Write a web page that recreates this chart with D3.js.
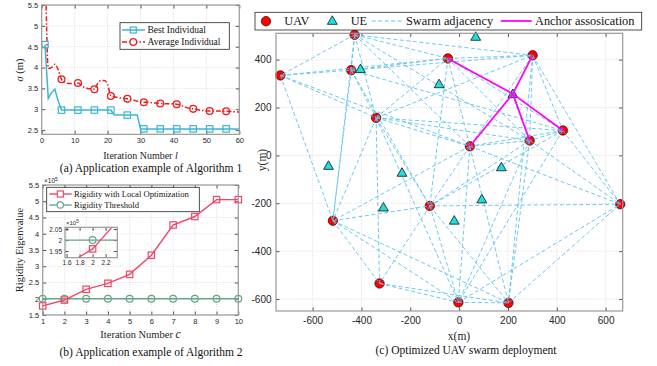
<!DOCTYPE html>
<html>
<head>
<meta charset="utf-8">
<script src="https://cdn.jsdelivr.net/npm/d3@7"></script>
<style>
  body { margin: 0; background: #fff; }
  svg { display: block; }
</style>
</head>
<body>
<svg id="fig" width="657" height="366"></svg>
<script>
// ---- (a) Algorithm 1: sigma per iteration (iterations 1..60)
const bestSigma = [4.55, 3.26, 3.40, 3.48, 3.20, 2.98,
  2.98, 2.98, 2.98, 2.98, 2.98, 2.98, 2.98, 2.98, 2.98, 2.98, 2.98, 2.98, 2.98, 2.98, 2.98,
  2.86, 2.86, 2.86, 2.86, 2.86, 2.86, 2.86, 2.86,
  2.53, 2.53, 2.53, 2.53, 2.53, 2.53, 2.53, 2.53, 2.53, 2.53, 2.53, 2.53, 2.53, 2.53, 2.53, 2.53,
  2.53, 2.53, 2.53, 2.53, 2.53, 2.53, 2.53, 2.53, 2.53, 2.53, 2.53, 2.53, 2.53, 2.53, 2.53];
const avgSigma = [7.0, 3.98, 4.00, 4.08, 3.95, 3.72, 3.65, 3.62, 3.62, 3.62,
  3.63, 3.58, 3.52, 3.50, 3.49, 3.48, 3.62, 3.69, 3.69, 3.60,
  3.32, 3.30, 3.28, 3.27, 3.26, 3.25, 3.24, 3.22, 3.19, 3.18,
  3.17, 3.17, 3.16, 3.15, 3.15, 3.14, 3.13, 3.13, 3.13, 3.13,
  3.12, 3.10, 3.07, 3.04, 3.02, 3.01, 3.00, 2.98, 2.97, 2.96,
  2.96, 2.96, 2.96, 2.96, 2.95, 2.95, 2.95, 2.94, 2.94, 2.93];
const ticksAx = [0, 10, 20, 30, 40, 50, 60];
const ticksAy = [2.5, 3, 3.5, 4, 4.5, 5, 5.5];

// ---- (b) Algorithm 2: rigidity eigenvalue (x1e5) per iteration c
const iterC = [1, 2, 3, 4, 5, 6, 7, 8, 9, 10];
const rigidity = [1.78, 1.96, 2.29, 2.475, 2.75, 3.34, 4.27, 4.53, 5.05, 5.05];
const threshold = [2, 2, 2, 2, 2, 2, 2, 2, 2, 2];
const ticksBy = [1.5, 2, 2.5, 3, 3.5, 4, 4.5, 5, 5.5];
const insetTicksX = [1.6, 1.8, 2, 2.2];
const insetTicksY = [1.95, 2, 2.05];

// ---- (c) UAV swarm deployment (m)
const uavX = [-428, -732, -442, -340, -46, 301, 425, 289, 44, -517, -120, -326, -3, 202, 660];
const uavY = [504, 334, 356, 157, 405, 418, 104, 62, 38, -273, -211, -535, -614, -616, -204];
const ueX = [-404, -82, -535, -234, 68, 220, 173, -310, -20, 93];
const ueY = [361, 298, -43, -72, 496, 257, -49, -217, -272, -183];
// swarm adjacency, by UAV index
const adjFrom = [0, 0, 0, 0, 0, 0, 0, 0, 1, 1, 1, 1, 1, 2, 2, 2, 2, 2, 2,
  3, 3, 3, 3, 3, 3, 3, 3, 3, 4, 4, 4, 4, 4, 5, 5, 5, 5, 5, 6, 6, 6, 6, 6,
  7, 7, 7, 7, 7, 8, 8, 8, 8, 8, 9, 9, 9, 9, 10, 10, 10, 10, 11, 11, 12, 12, 13];
const adjTo = [1, 2, 3, 4, 5, 8, 9, 7, 2, 4, 3, 9, 8, 4, 5, 3, 6, 10, 9,
  4, 5, 7, 6, 8, 10, 11, 9, 12, 5, 8, 7, 10, 6, 6, 7, 8, 14, 13, 7, 8, 14, 10, 12,
  8, 14, 13, 12, 10, 10, 12, 13, 14, 9, 10, 11, 12, 13, 11, 12, 13, 14, 12, 13, 13, 14, 14];
const anchorUE = 5;
const anchorUAVs = [4, 5, 6, 7, 8];
const ticksCx = [-600, -400, -200, 0, 200, 400, 600];
const ticksCy = [-600, -400, -200, 0, 200, 400];

const svg = d3.select('#fig');
const SERIF = 'Liberation Serif, Times New Roman, serif';
const SANS = 'Liberation Sans, Arial, sans-serif';
const TXT = '#262626';

// MATLAB-like box: grid, inward ticks on all sides, tick labels left/bottom
function drawBox(g, x, y, xt, yt, fs, fmtX, fmtY, padX = 3, padY = 3) {
  const [xa, xb] = x.range();
  const [ya, yb] = y.range();
  const grid = g.append('g');
  grid.selectAll('.gx').data(xt).join('line')
    .attr('x1', d => x(d)).attr('x2', d => x(d)).attr('y1', ya).attr('y2', yb);
  grid.selectAll('.gy').data(yt).join('line')
    .attr('y1', d => y(d)).attr('y2', d => y(d)).attr('x1', xa).attr('x2', xb);
  grid.selectAll('line').attr('stroke', '#cfcfcf').attr('stroke-width', 0.7)
    .attr('stroke-dasharray', '1,1.5');

  const ax = [
    [d3.axisBottom(x).tickValues(xt).tickFormat(fmtX), `translate(0,${ya})`, padX],
    [d3.axisTop(x).tickValues(xt).tickFormat(''), `translate(0,${yb})`, 3],
    [d3.axisLeft(y).tickValues(yt).tickFormat(fmtY), `translate(${xa},0)`, padY],
    [d3.axisRight(y).tickValues(yt).tickFormat(''), `translate(${xb},0)`, 3]
  ];
  ax.forEach(([a, t, p]) => {
    const s = g.append('g').attr('transform', t)
      .call(a.tickSize(-3.5).tickSizeOuter(0).tickPadding(p))
      .attr('font-family', SANS).attr('font-size', fs);
    s.select('.domain').remove();
    s.selectAll('.tick line').attr('stroke', TXT).attr('stroke-width', 0.8);
    s.selectAll('.tick text').attr('fill', TXT);
  });
  return g;
}

function frameRect(g, x, y) {
  const [xa, xb] = x.range();
  const [ya, yb] = y.range();
  g.append('rect').attr('x', xa).attr('y', yb).attr('width', xb - xa).attr('height', ya - yb)
    .attr('fill', 'none').attr('stroke', '#9a9a9a').attr('stroke-width', 1.2);
}

// ================= (a) =================
{
  const g = svg.append('g');
  const x = d3.scaleLinear().domain([0, 60]).range([41.7, 239.3]);
  const y = d3.scaleLinear().domain([2.4, 5.5]).range([134.3, 5]);
  g.append('rect').attr('x', 41.7).attr('y', 5).attr('width', 197.6).attr('height', 129.3).attr('fill', '#fff');
  drawBox(g, x, y, ticksAx, ticksAy, 7.5, d3.format('d'), d => String(d), 3.5, 3.5);

  g.append('clipPath').attr('id', 'clipA').append('rect')
    .attr('x', 41.7).attr('y', 5).attr('width', 197.6).attr('height', 129.3);

  const cyan = '#3cb6d3', red = '#ee1c1c';
  const line = d3.line().x((d, i) => x(i + 1)).y(d => y(d));
  const gp = g.append('g').attr('clip-path', 'url(#clipA)');
  gp.append('path').datum(bestSigma).attr('d', line)
    .attr('fill', 'none').attr('stroke', cyan).attr('stroke-width', 1.5);
  gp.append('path').datum(avgSigma).attr('d', line.curve(d3.curveMonotoneX))
    .attr('fill', 'none').attr('stroke', red).attr('stroke-width', 1.5)
    .attr('stroke-dasharray', '5,2,1.5,2');

  const marks = d3.range(0, 60, 5);
  gp.selectAll('.bm').data(marks).join('rect')
    .attr('x', i => x(i + 1) - 3.2).attr('y', i => y(bestSigma[i]) - 3.2)
    .attr('width', 6.4).attr('height', 6.4)
    .attr('fill', 'none').attr('stroke', cyan).attr('stroke-width', 1.2);
  gp.selectAll('.am').data(marks).join('circle')
    .attr('cx', i => x(i + 1)).attr('cy', i => y(avgSigma[i])).attr('r', 3.4)
    .attr('fill', 'none').attr('stroke', red).attr('stroke-width', 1.3);
  frameRect(g, x, y);

  // legend
  const lg = g.append('g');
  lg.append('rect').attr('x', 120).attr('y', 22.7).attr('width', 109.3).attr('height', 26.6)
    .attr('fill', '#fff').attr('stroke', '#262626').attr('stroke-width', 0.8);
  lg.append('line').attr('x1', 122).attr('x2', 145).attr('y1', 30).attr('y2', 30)
    .attr('stroke', cyan).attr('stroke-width', 1.5);
  lg.append('rect').attr('x', 130.3).attr('y', 27).attr('width', 6).attr('height', 6)
    .attr('fill', 'none').attr('stroke', cyan).attr('stroke-width', 1.2);
  lg.append('line').attr('x1', 122).attr('x2', 145).attr('y1', 42).attr('y2', 42)
    .attr('stroke', red).attr('stroke-width', 1.5).attr('stroke-dasharray', '5,2,1.5,2');
  lg.append('circle').attr('cx', 133.3).attr('cy', 42).attr('r', 3.3)
    .attr('fill', '#fff').attr('stroke', red).attr('stroke-width', 1.3);
  lg.append('text').attr('x', 147.5).attr('y', 33.2).text('Best Individual');
  lg.append('text').attr('x', 147.5).attr('y', 45.2).text('Average Individual');
  lg.selectAll('text').attr('font-family', SERIF).attr('font-size', 9.5).attr('fill', '#111');

  g.append('text').attr('transform', 'translate(23,70) rotate(-90)')
    .attr('text-anchor', 'middle').attr('font-family', SERIF).attr('font-size', 10.5).attr('fill', TXT)
    .call(t => {
      t.append('tspan').attr('font-style', 'italic').text('σ');
      t.append('tspan').text(' (m)');
    });
  g.append('text').attr('x', 140.5).attr('y', 159).attr('text-anchor', 'middle')
    .attr('font-family', SERIF).attr('font-size', 10).attr('fill', TXT)
    .call(t => {
      t.append('tspan').text('Iteration Number ');
      t.append('tspan').attr('font-style', 'italic').text('l');
    });
  g.append('text').attr('x', 151).attr('y', 172).attr('text-anchor', 'middle')
    .attr('font-family', SERIF).attr('font-size', 11.5).attr('fill', '#111')
    .text('(a) Application example of Algorithm 1');
}

// ================= (b) =================
{
  const g = svg.append('g');
  const x = d3.scaleLinear().domain([1, 10]).range([42.7, 238.3]);
  const y = d3.scaleLinear().domain([1.5, 5.5]).range([315, 185]);
  drawBox(g, x, y, iterC, ticksBy, 7.5, d3.format('d'), d => String(d), 3.5, 3.5);

  const pink = '#f2456a', green = '#66a688';
  const line = d3.line().x((d, i) => x(iterC[i])).y(d => y(d));
  g.append('path').datum(threshold).attr('d', line)
    .attr('fill', 'none').attr('stroke', green).attr('stroke-width', 1.4);
  g.selectAll('.tm').data(threshold).join('circle')
    .attr('cx', (d, i) => x(iterC[i])).attr('cy', d => y(d)).attr('r', 3.4)
    .attr('fill', 'none').attr('stroke', green).attr('stroke-width', 1.2);
  g.append('path').datum(rigidity).attr('d', line)
    .attr('fill', 'none').attr('stroke', pink).attr('stroke-width', 1.4);
  g.selectAll('.rm').data(rigidity).join('rect')
    .attr('x', (d, i) => x(iterC[i]) - 3.2).attr('y', d => y(d) - 3.2)
    .attr('width', 6.4).attr('height', 6.4)
    .attr('fill', 'none').attr('stroke', pink).attr('stroke-width', 1.2);
  frameRect(g, x, y);

  g.append('text').attr('x', 44).attr('y', 183).attr('font-family', SANS).attr('font-size', 6.5).attr('fill', TXT)
    .call(t => {
      t.append('tspan').text('×10');
      t.append('tspan').attr('dy', -2.5).attr('font-size', 5).text('5');
    });

  // legend
  const lg = g.append('g');
  lg.append('rect').attr('x', 46.7).attr('y', 187.3).attr('width', 152.6).attr('height', 24.4)
    .attr('fill', '#fff').attr('stroke', '#262626').attr('stroke-width', 0.8);
  lg.append('line').attr('x1', 49.3).attr('x2', 71.7).attr('y1', 194).attr('y2', 194)
    .attr('stroke', pink).attr('stroke-width', 1.4);
  lg.append('rect').attr('x', 57.3).attr('y', 191).attr('width', 6).attr('height', 6)
    .attr('fill', '#fff').attr('stroke', pink).attr('stroke-width', 1.2);
  lg.append('line').attr('x1', 49.3).attr('x2', 71.7).attr('y1', 205).attr('y2', 205)
    .attr('stroke', green).attr('stroke-width', 1.4);
  lg.append('circle').attr('cx', 60.3).attr('cy', 205).attr('r', 3.2)
    .attr('fill', '#fff').attr('stroke', green).attr('stroke-width', 1.2);
  lg.append('text').attr('x', 74).attr('y', 197).text('Rigidity with Local Optimization');
  lg.append('text').attr('x', 74).attr('y', 208).text('Rigidity Threshold');
  lg.selectAll('text').attr('font-family', SERIF).attr('font-size', 8.6).attr('fill', '#111');

  // inset zoom around c = 2
  const ix = d3.scaleLinear().domain([1.575, 2.38]).range([65, 117.3]);
  const iy = d3.scaleLinear().domain([1.92, 2.058]).range([257.7, 227.3]);
  const ig = g.append('g');
  ig.append('rect').attr('x', 65).attr('y', 227.3).attr('width', 52.3).attr('height', 30.4).attr('fill', '#fff');
  drawBox(ig, ix, iy, insetTicksX, insetTicksY, 6.5, d => String(d), d => String(d));
  ig.append('clipPath').attr('id', 'clipI').append('rect')
    .attr('x', 65).attr('y', 227.3).attr('width', 52.3).attr('height', 30.4);
  const il = d3.line().x((d, i) => ix(iterC[i])).y(d => iy(d));
  const ic = ig.append('g').attr('clip-path', 'url(#clipI)');
  ic.append('path').datum(threshold).attr('d', il)
    .attr('fill', 'none').attr('stroke', green).attr('stroke-width', 1.3);
  ic.append('circle').attr('cx', ix(iterC[1])).attr('cy', iy(threshold[1])).attr('r', 3.4)
    .attr('fill', 'none').attr('stroke', green).attr('stroke-width', 1.2);
  ic.append('path').datum(rigidity).attr('d', il)
    .attr('fill', 'none').attr('stroke', pink).attr('stroke-width', 1.3);
  ic.append('rect').attr('x', ix(iterC[1]) - 3.2).attr('y', iy(rigidity[1]) - 3.2)
    .attr('width', 6.4).attr('height', 6.4)
    .attr('fill', 'none').attr('stroke', pink).attr('stroke-width', 1.2);
  frameRect(ig, ix, iy);
  ig.append('text').attr('x', 66).attr('y', 225).attr('font-family', SANS).attr('font-size', 6).attr('fill', TXT)
    .call(t => {
      t.append('tspan').text('×10');
      t.append('tspan').attr('dy', -2.5).attr('font-size', 4.5).text('5');
    });

  g.append('text').attr('transform', 'translate(23,250) rotate(-90)')
    .attr('text-anchor', 'middle').attr('font-family', SERIF).attr('font-size', 10.5).attr('fill', TXT)
    .text('Rigidity Eigenvalue');
  g.append('text').attr('x', 140.5).attr('y', 337.5).attr('text-anchor', 'middle')
    .attr('font-family', SERIF).attr('font-size', 10.5).attr('fill', TXT)
    .call(t => {
      t.append('tspan').text('Iteration Number ');
      t.append('tspan').attr('font-style', 'italic').attr('font-size', 11.5).text('c');
    });
  g.append('text').attr('x', 151).attr('y', 356).attr('text-anchor', 'middle')
    .attr('font-family', SERIF).attr('font-size', 11.5).attr('fill', '#111')
    .text('(b) Application example of Algorithm 2');
}

// ================= (c) =================
{
  const g = svg.append('g');
  const x = d3.scaleLinear().domain([-750, 670]).range([276, 622.7]);
  const y = d3.scaleLinear().domain([-650, 510]).range([311, 33.3]);
  drawBox(g, x, y, ticksCx, ticksCy, 10, d => String(d), d => String(d), 6, 4.5);

  const blue = '#5cc2ee', magenta = '#ff00ff';
  const uavR = 4.7;

  // UAVs
  g.selectAll('.uav').data(uavX).join('circle')
    .attr('cx', d => x(d)).attr('cy', (d, i) => y(uavY[i])).attr('r', uavR)
    .attr('fill', '#ff0000').attr('stroke', '#3a1010').attr('stroke-width', 0.8);

  // swarm adjacency
  g.selectAll('.adj').data(adjFrom).join('line')
    .attr('x1', d => x(uavX[d])).attr('y1', d => y(uavY[d]))
    .attr('x2', (d, i) => x(uavX[adjTo[i]])).attr('y2', (d, i) => y(uavY[adjTo[i]]))
    .attr('stroke', blue).attr('stroke-width', 0.9).attr('stroke-dasharray', '4,2.5');

  // UEs
  const tri = d3.symbol().type(d3.symbolTriangle).size(42);
  g.selectAll('.ue').data(ueX).join('path')
    .attr('d', tri)
    .attr('transform', (d, i) => `translate(${x(d)},${y(ueY[i]) + 0.8})`)
    .attr('fill', '#1fdede').attr('stroke', '#111').attr('stroke-width', 0.8);

  // anchor association
  g.selectAll('.anc').data(anchorUAVs).join('line')
    .attr('x1', x(ueX[anchorUE])).attr('y1', y(ueY[anchorUE]))
    .attr('x2', d => x(uavX[d])).attr('y2', d => y(uavY[d]))
    .attr('stroke', magenta).attr('stroke-width', 1.8);

  frameRect(g, x, y);

  // legend
  const lg = g.append('g');
  lg.append('rect').attr('x', 255).attr('y', 12.3).attr('width', 386.7).attr('height', 17.7)
    .attr('fill', '#fff').attr('stroke', '#262626').attr('stroke-width', 0.8);
  lg.append('circle').attr('cx', 266).attr('cy', 21.2).attr('r', uavR)
    .attr('fill', '#ff0000').attr('stroke', '#3a1010').attr('stroke-width', 0.8);
  lg.append('path').attr('d', tri).attr('transform', 'translate(332.3,21.5)')
    .attr('fill', '#1fdede').attr('stroke', '#111').attr('stroke-width', 0.8);
  lg.append('line').attr('x1', 371.7).attr('x2', 401.7).attr('y1', 21).attr('y2', 21)
    .attr('stroke', blue).attr('stroke-width', 1).attr('stroke-dasharray', '4,2.5');
  lg.append('line').attr('x1', 500.7).attr('x2', 531.7).attr('y1', 21).attr('y2', 21)
    .attr('stroke', magenta).attr('stroke-width', 1.8);
  lg.append('text').attr('x', 284.3).attr('y', 25.3).text('UAV');
  lg.append('text').attr('x', 350.7).attr('y', 25.3).text('UE');
  lg.append('text').attr('x', 406).attr('y', 25.3).text('Swarm adjacency');
  lg.append('text').attr('x', 535).attr('y', 25.3).text('Anchor assosication');
  lg.selectAll('text').attr('font-family', SERIF).attr('font-size', 12.3).attr('fill', '#111');

  g.append('text').attr('transform', 'translate(266,160) rotate(-90)')
    .attr('text-anchor', 'middle').attr('font-family', SERIF).attr('font-size', 11.5).attr('fill', TXT)
    .text('y(m)');
  g.append('text').attr('x', 459).attr('y', 340).attr('text-anchor', 'middle')
    .attr('font-family', SERIF).attr('font-size', 11.5).attr('fill', TXT)
    .text('x(m)');
  g.append('text').attr('x', 466).attr('y', 354).attr('text-anchor', 'middle')
    .attr('font-family', SERIF).attr('font-size', 11.5).attr('fill', '#111')
    .text('(c) Optimized UAV swarm deployment');
}
</script>
</body>
</html>
